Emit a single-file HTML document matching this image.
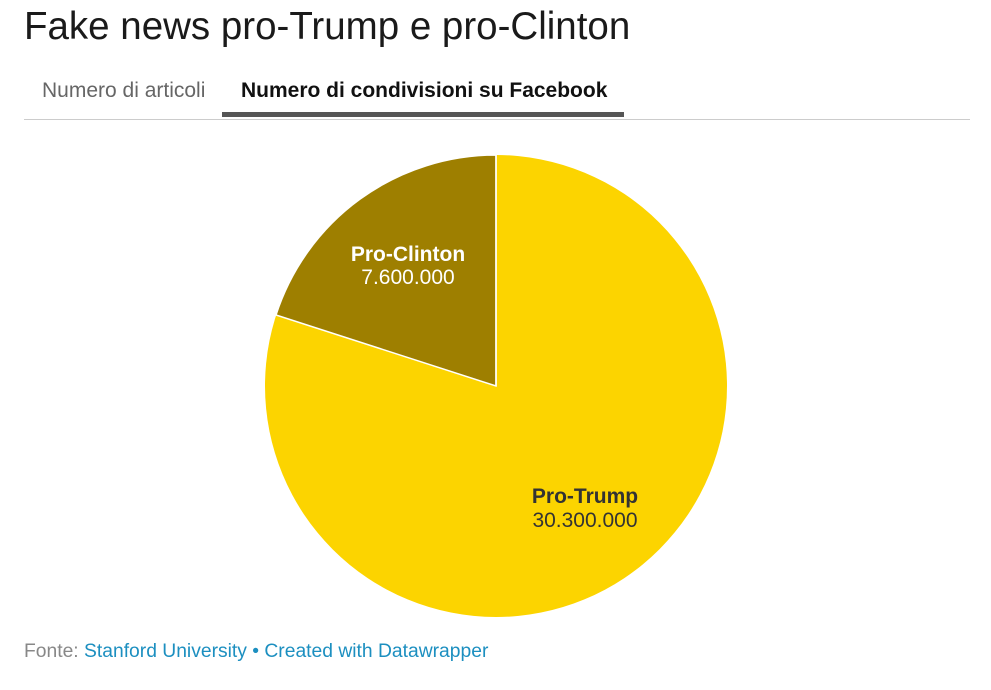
<!DOCTYPE html>
<html><head><meta charset="utf-8"><style>
body{margin:0;width:991px;height:690px;background:#fff;font-family:"Liberation Sans",sans-serif;position:relative;overflow:hidden}
.a{position:absolute;white-space:nowrap}
</style></head><body>
<div class="a" style="left:24px;top:5px;font-size:38.5px;color:#1a1a1a">Fake news pro-Trump e pro-Clinton</div>
<div class="a" style="left:42px;top:79px;font-size:21px;color:#666">Numero di articoli</div>
<div class="a" style="left:241px;top:79px;font-size:21px;font-weight:bold;color:#111">Numero di condivisioni su Facebook</div>
<div class="a" style="left:222px;top:112px;width:402px;height:5px;background:#555"></div>
<div class="a" style="left:24px;top:119px;width:946px;height:1px;background:#ccc"></div>
<svg class="a" style="left:0;top:0" width="991" height="690">
<circle cx="496" cy="386" r="231" fill="#fcd400"/>
<path d="M496 386 L496 155 A231 231 0 0 0 276 315 Z" fill="#9e7f00" stroke="#fff" stroke-width="1.5"/>
<line x1="496" y1="386" x2="496" y2="155" stroke="#fff" stroke-width="1.5"/>
<g font-family="Liberation Sans, sans-serif" font-size="21" text-anchor="middle">
<text x="408" y="261" fill="#fff" font-weight="bold">Pro-Clinton</text>
<text x="408" y="284" fill="#fff">7.600.000</text>
<text x="585" y="503" fill="#333" font-weight="bold">Pro-Trump</text>
<text x="585" y="527" fill="#333">30.300.000</text>
</g>
</svg>
<div class="a" style="left:24px;top:641px;font-size:19.3px;color:#888">Fonte: <span style="color:#1c8fc0">Stanford University • Created with Datawrapper</span></div>
</body></html>
